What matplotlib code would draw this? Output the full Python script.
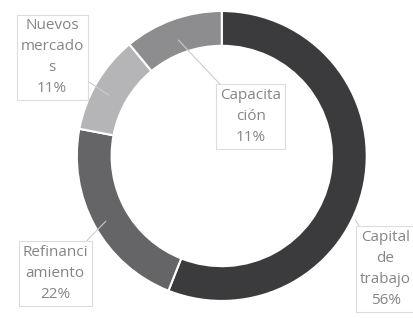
import matplotlib.pyplot as plt

categories = ["Capital de trabajo", "Refinanciamiento", "Nuevos mercados", "Capacitación"]
label_lines = ["Capital\nde\ntrabajo", "Refinanci\namiento", "Nuevos\nmercado\ns", "Capacita\nción"]
values = [56, 22, 11, 11]
colors = ["#3b3b3d", "#656567", "#b5b5b7", "#8d8d8f"]

# label box centers and leader-line ends (data coords, radius 1)
label_pos = [(1.13, -0.78), (-1.15, -0.81), (-1.17, 0.68), (0.20, 0.27)]
arrow_end = [(0.92, -0.44), (-0.80, -0.45), (-0.78, 0.42), (-0.30, 0.80)]

plt.rcParams["font.family"] = ["Open Sans", "DejaVu Sans"]

fig = plt.figure(figsize=(4.13, 3.18), dpi=100)
ax = fig.add_axes([0.186, 0.0535, 0.702, 0.912])

ax.pie(values, colors=colors, startangle=90, counterclock=False,
       radius=1.0, wedgeprops=dict(width=0.24, edgecolor="white", linewidth=1.5))
ax.set_xlim(-1, 1)
ax.set_ylim(-1, 1)
ax.set_aspect("equal")
ax.axis("off")

for txt, v, pos, end in zip(label_lines, values, label_pos, arrow_end):
    ax.annotate(f"{txt}\n{v}%", xy=end, xytext=pos, ha="center", va="center",
                fontsize=11, color="#858585", linespacing=1.55,
                annotation_clip=False,
                bbox=dict(boxstyle="square,pad=0.25", fc="white", ec="#dcdcdc", lw=0.8),
                arrowprops=dict(arrowstyle="-", color="#cccccc", lw=0.8,
                                shrinkA=0, shrinkB=0))

fig.savefig("out.png", dpi=100)
